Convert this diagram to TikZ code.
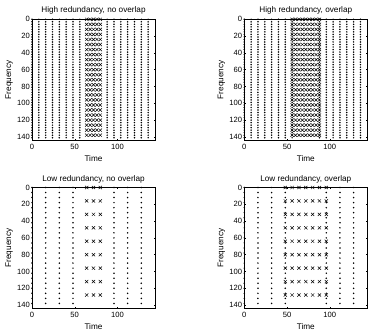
\documentclass[tikz,border=0pt]{standalone}
\usepackage{fontspec}
\setmainfont{Liberation Sans}
\tikzset{
  frame/.style     ={draw=black, line width=0.5pt},
  tickmark/.style  ={line width=0.4pt},
  ticklabel/.style ={font=\fontsize{7.6}{9}\selectfont, inner sep=0pt},
  axtitle/.style   ={font=\fontsize{8.2}{9}\selectfont, inner sep=0pt},
  dotm/.pic        ={\fill (0,0) circle[radius=0.85pt];},
  xm/.pic          ={\draw[line width=0.5pt] (-1.6pt,-1.6pt) -- (1.6pt,1.6pt)
                                             (-1.6pt,1.6pt) -- (1.6pt,-1.6pt);}
}
% one set of axes, 0..144 in time and frequency
\newcommand{\plotframe}[2]{%
  \draw[frame] (0,0) rectangle (144,144);
  \foreach \f in {0,20,...,140} {
    \draw[tickmark] (0,\f) -- ++(1.2pt,0);
    \draw[tickmark] (144,\f) -- ++(-1.2pt,0);
    \node[ticklabel, left=2pt] (#1y\f) at (0,\f) {\f};
  }
  \foreach \t in {0,50,100} {
    \draw[tickmark] (\t,144) -- ++(0,1.2pt);
    \draw[tickmark] (\t,0) -- ++(0,-1.2pt);
    \node[ticklabel, below=3.5pt] (#1x\t) at (\t,144) {\t};
  }
  \node[axtitle, anchor=base] (#1title) at ([yshift=6.3pt]72,0) {#2};
  \node[axtitle, anchor=base] (#1time) at ([yshift=-21pt]72,144) {Time};
  \node[axtitle, anchor=base, rotate=90] (#1freq) at ([xshift=-21pt]0,72) {Frequency};
}
\begin{document}
\begin{tikzpicture}[x=1pt, y=-1pt]
  \useasboundingbox (0,0) rectangle (370,336);

  % ====================== High redundancy, no overlap ======================
  \begin{scope}[shift={(32,19.3)}, x=0.854pt, y=-0.840pt]
    \plotframe{ha}{High redundancy, no overlap}
    \foreach \t in {0,8,...,56}    {\foreach \f in {0,3,...,141} \pic at (\t,\f) {dotm};}
    \foreach \t in {88,96,...,136} {\foreach \f in {0,3,...,141} \pic at (\t,\f) {dotm};}
    \foreach \t in {64,68,...,80}  {\foreach \f in {0,6,...,138} \pic at (\t,\f) {xm};}
  \end{scope}

  % ====================== High redundancy, overlap ======================
  \begin{scope}[shift={(244.3,19.3)}, x=0.854pt, y=-0.840pt]
    \plotframe{hb}{High redundancy, overlap}
    \foreach \t in {0,8,...,56}    {\foreach \f in {0,3,...,141} \pic at (\t,\f) {dotm};}
    \foreach \t in {88,96,...,136} {\foreach \f in {0,3,...,141} \pic at (\t,\f) {dotm};}
    \foreach \t in {56,60,...,88}  {\foreach \f in {0,6,...,138} \pic at (\t,\f) {xm};}
  \end{scope}

  % ====================== Low redundancy, no overlap ======================
  \begin{scope}[shift={(32,187.5)}, x=0.854pt, y=-0.840pt]
    \plotframe{la}{Low redundancy, no overlap}
    \foreach \t in {0,16,...,48}  {\foreach \f in {0,6,...,138} \pic at (\t,\f) {dotm};}
    \foreach \t in {96,112,128}   {\foreach \f in {0,6,...,138} \pic at (\t,\f) {dotm};}
    \foreach \t in {64,72,80}     {\foreach \f in {0,16,...,128} \pic at (\t,\f) {xm};}
  \end{scope}

  % ====================== Low redundancy, overlap ======================
  \begin{scope}[shift={(244.3,187.5)}, x=0.854pt, y=-0.840pt]
    \plotframe{lb}{Low redundancy, overlap}
    \foreach \t in {0,16,...,48}  {\foreach \f in {0,6,...,138} \pic at (\t,\f) {dotm};}
    \foreach \t in {96,112,128}   {\foreach \f in {0,6,...,138} \pic at (\t,\f) {dotm};}
    \foreach \t in {48,56,...,96} {\foreach \f in {0,16,...,128} \pic at (\t,\f) {xm};}
  \end{scope}

\end{tikzpicture}
\end{document}
